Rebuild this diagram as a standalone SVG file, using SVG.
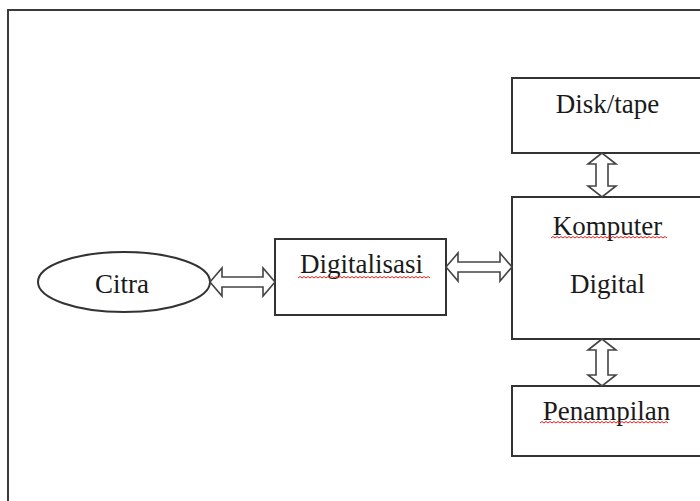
<svg xmlns="http://www.w3.org/2000/svg" width="700" height="501" viewBox="0 0 700 501">
<style>
.frame{fill:none;stroke:#3a3a3a;stroke-width:2}
.box{fill:#fff;stroke:#333;stroke-width:2}
.lbl{font-family:"Liberation Serif","Times New Roman",serif;font-size:27px;fill:#1a1a1a;text-anchor:middle}
.arr{fill:#fff;stroke:#444;stroke-width:1.6;stroke-linejoin:miter}
.sq{fill:none;stroke:#e0201c;stroke-width:1}
</style>
<rect width="700" height="501" fill="#fff"/>
<rect class="frame" x="8" y="10" width="720" height="520"/>
<g id="citra">
<ellipse class="box" cx="124" cy="282" rx="86" ry="30"/>
<text class="lbl" x="122" y="293">Citra</text>
</g>
<g id="digitalisasi">
<rect class="box" x="275" y="239" width="171" height="76"/>
<text class="lbl" x="361.5" y="273">Digitalisasi</text>
<path class="sq" d="M298,278 l2,-1.5 2,1.5 2,-1.5 2,1.5 2,-1.5 2,1.5 2,-1.5 2,1.5 2,-1.5 2,1.5 2,-1.5 2,1.5 2,-1.5 2,1.5 2,-1.5 2,1.5 2,-1.5 2,1.5 2,-1.5 2,1.5 2,-1.5 2,1.5 2,-1.5 2,1.5 2,-1.5 2,1.5 2,-1.5 2,1.5 2,-1.5 2,1.5 2,-1.5 2,1.5 2,-1.5 2,1.5 2,-1.5 2,1.5 2,-1.5 2,1.5 2,-1.5 2,1.5 2,-1.5 2,1.5 2,-1.5 2,1.5 2,-1.5 2,1.5 2,-1.5 2,1.5 2,-1.5 2,1.5 2,-1.5 2,1.5 2,-1.5 2,1.5 2,-1.5 2,1.5 2,-1.5 2,1.5 2,-1.5 2,1.5 2,-1.5 2,1.5 2,-1.5 2,1.5 2,-1.5 2,1.5"/>
</g>
<g id="disk-tape">
<rect class="box" x="512" y="78" width="200" height="75"/>
<text class="lbl" x="607.5" y="113">Disk/tape</text>
</g>
<g id="komputer-digital">
<rect class="box" x="512" y="197" width="200" height="142"/>
<text class="lbl" x="607.5" y="235">Komputer</text>
<text class="lbl" x="607.5" y="293">Digital</text>
<path class="sq" d="M551,238 l2,-1.5 2,1.5 2,-1.5 2,1.5 2,-1.5 2,1.5 2,-1.5 2,1.5 2,-1.5 2,1.5 2,-1.5 2,1.5 2,-1.5 2,1.5 2,-1.5 2,1.5 2,-1.5 2,1.5 2,-1.5 2,1.5 2,-1.5 2,1.5 2,-1.5 2,1.5 2,-1.5 2,1.5 2,-1.5 2,1.5 2,-1.5 2,1.5 2,-1.5 2,1.5 2,-1.5 2,1.5 2,-1.5 2,1.5 2,-1.5 2,1.5 2,-1.5 2,1.5 2,-1.5 2,1.5 2,-1.5 2,1.5 2,-1.5 2,1.5 2,-1.5 2,1.5 2,-1.5 2,1.5 2,-1.5 2,1.5 2,-1.5 2,1.5 2,-1.5 2,1.5 2,-1.5 2,1.5"/>
</g>
<g id="penampilan">
<rect class="box" x="512" y="386" width="200" height="70"/>
<text class="lbl" x="606.5" y="420">Penampilan</text>
<path class="sq" d="M540,423 l2,-1.5 2,1.5 2,-1.5 2,1.5 2,-1.5 2,1.5 2,-1.5 2,1.5 2,-1.5 2,1.5 2,-1.5 2,1.5 2,-1.5 2,1.5 2,-1.5 2,1.5 2,-1.5 2,1.5 2,-1.5 2,1.5 2,-1.5 2,1.5 2,-1.5 2,1.5 2,-1.5 2,1.5 2,-1.5 2,1.5 2,-1.5 2,1.5 2,-1.5 2,1.5 2,-1.5 2,1.5 2,-1.5 2,1.5 2,-1.5 2,1.5 2,-1.5 2,1.5 2,-1.5 2,1.5 2,-1.5 2,1.5 2,-1.5 2,1.5 2,-1.5 2,1.5 2,-1.5 2,1.5 2,-1.5 2,1.5 2,-1.5 2,1.5 2,-1.5 2,1.5 2,-1.5 2,1.5 2,-1.5 2,1.5 2,-1.5 2,1.5 2,-1.5 2,1.5"/>
</g>
<g id="connectors">
<polygon class="arr" points="210,282 222,268 222,277 263,277 263,268 275,282 263,296 263,287 222,287 222,296"/>
<polygon class="arr" points="446,267 458,253 458,262 500,262 500,253 512,267 500,281 500,272 458,272 458,281"/>
<polygon class="arr" points="602,153 588,164 596,164 596,186 588,186 602,197 616,186 608,186 608,164 616,164"/>
<polygon class="arr" points="602,339 588,350 596,350 596,375 588,375 602,386 616,375 608,375 608,350 616,350"/>
</g>
</svg>
